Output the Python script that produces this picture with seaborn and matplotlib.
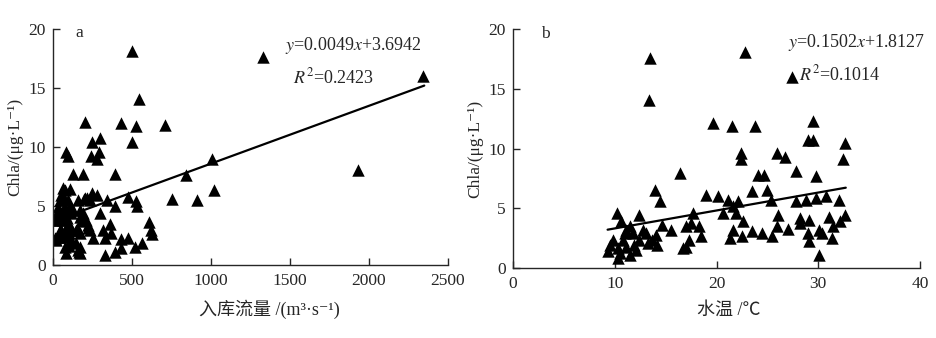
import numpy as np
import pandas as pd
import matplotlib
matplotlib.use("Agg")
import matplotlib.pyplot as plt
import seaborn as sns

sns.set_style("ticks")
plt.rcParams["font.family"] = ["Liberation Serif", "Noto Sans CJK SC", "DejaVu Serif"]
plt.rcParams["mathtext.fontset"] = "stix"
plt.rcParams["axes.linewidth"] = 1.0
plt.rcParams["xtick.direction"] = "in"
plt.rcParams["ytick.direction"] = "in"

# ---- data ----
flow_x = [500, 1330, 2343, 545, 200, 433, 523, 707, 296, 249, 498, 84, 95, 291, 243, 279,
          1007, 1932, 395, 127, 190, 844, 1017, 756, 912, 342, 395, 477, 523, 534, 63, 106,
          196, 215, 249, 279, 232, 606, 623, 629, 296, 359, 317, 370, 327, 433, 475, 433,
          519, 561, 327, 390, 253, 232, 169, 180, 148, 169, 162, 112, 38,
          32, 32, 21, 74, 85, 127, 63, 106, 53, 85, 116, 74, 85, 169, 148, 169, 190, 158,
          222, 11, 42, 95, 74, 53, 32, 21, 11, 42, 74, 95, 116, 169, 201, 158, 158, 211,
          60, 90, 100, 50, 120, 80, 70, 110, 100, 222]
flow_chla = [18.1, 17.6, 16.0, 14.1, 12.1, 12.0, 11.8, 11.9, 10.8, 10.4, 10.45, 9.6, 9.2, 9.6, 9.2, 9.0,
             9.0, 8.05, 7.7, 7.7, 7.7, 7.6, 6.35, 5.6, 5.5, 5.5, 5.0, 5.8, 5.4, 5.0, 6.5, 6.4,
             5.6, 5.65, 6.07, 5.9, 5.5, 3.67, 2.97, 2.6, 4.4, 3.5, 3.0, 2.7, 2.3, 2.2, 2.3, 1.4,
             1.55, 1.9, 0.85, 1.1, 2.3, 3.0, 4.1, 3.7, 3.0, 1.55, 1.1, 2.1, 3.8,
             4.5, 2.4, 2.1, 5.5, 4.66, 4.66, 3.8, 3.25, 3.0, 2.4, 2.1, 1.55, 1.0, 1.0, 1.84, 2.7, 4.4, 5.5,
             3.4, 4.1, 5.5, 5.5, 6.35, 5.9, 4.9, 3.8, 2.26, 3.0, 2.4, 3.5, 4.4, 4.66, 5.65, 3.0, 1.27, 3.8,
             4.2, 4.0, 1.6, 2.7, 3.0, 3.0, 4.8, 5.0, 2.7, 3.1]

temp_x = [13.5, 13.36, 22.75, 19.7, 21.5, 23.8, 29.5, 29.0, 29.5, 32.6, 32.4, 22.4, 22.4, 25.9, 26.7,
          16.4, 27.8, 24.1, 24.7, 29.8, 14.0, 14.4, 19.0, 20.1, 23.5, 25.0, 25.4, 27.8, 28.8, 29.8,
          30.8, 32.0, 21.1, 22.1, 21.6, 20.6, 21.9, 12.4, 10.2, 10.6, 14.6, 15.5, 17.0, 17.7, 17.5,
          18.3, 18.5, 17.0, 16.7, 17.3, 21.6, 21.3, 22.6, 22.5, 23.5, 24.5, 25.5, 26.0, 25.9, 27.0,
          28.2, 29.1, 29.0, 29.1, 30.1, 30.4, 31.1, 31.4, 31.3, 32.1, 32.6, 30.1, 28.2, 27.4,
          9.3, 9.5, 9.8, 10.3, 10.5, 11.1, 11.5, 10.8, 11.8, 11.5, 12.1, 12.4, 12.8, 13.3, 13.7,
          14.1, 11.0, 10.3, 11.9, 11.1, 13.1, 14.2]
temp_chla = [17.6, 14.1, 18.1, 12.1, 11.9, 11.9, 12.3, 10.7, 10.7, 10.5, 9.15, 9.6, 9.1, 9.6, 9.26,
             7.95, 8.1, 7.75, 7.8, 7.67, 6.55, 5.58, 6.14, 6.05, 6.42, 6.56, 5.72, 5.58, 5.72, 5.86,
             6.0, 5.72, 5.72, 5.58, 5.16, 4.6, 4.6, 4.46, 4.6, 3.9, 3.6, 3.2, 3.5, 4.6, 3.77,
             3.5, 2.65, 1.8, 1.67, 2.37, 3.2, 2.5, 3.9, 2.65, 3.07, 2.93, 2.65, 4.46, 3.5, 3.3,
             4.2, 4.0, 2.93, 2.23, 3.2, 2.93, 4.3, 3.5, 2.5, 3.9, 4.46, 1.1, 3.8, 16.0,
             1.4, 1.95, 2.37, 0.84, 1.26, 1.8, 1.1, 2.37, 2.9, 3.5, 1.53, 2.37, 3.2, 2.1, 2.37,
             2.8, 2.9, 1.67, 1.95, 3.2, 2.9, 1.95]

# fitted lines (coefficients as printed in the figure)
fit_a = (0.0049, 3.6942)
fit_b = (0.1502, 1.8127)
fit_range_a = [200, 2350]
fit_range_b = [9.3, 32.7]

df_a = pd.DataFrame({"x": flow_x, "y": flow_chla})
df_b = pd.DataFrame({"x": temp_x, "y": temp_chla})
line_a = pd.DataFrame({"x": fit_range_a})
line_a["y"] = fit_a[0] * line_a["x"] + fit_a[1]
line_b = pd.DataFrame({"x": fit_range_b})
line_b["y"] = fit_b[0] * line_b["x"] + fit_b[1]

fig = plt.figure(figsize=(9.36, 3.38), dpi=100)
ax1 = fig.add_axes([0.0566, 0.216, 0.422, 0.698])
ax2 = fig.add_axes([0.548, 0.207, 0.435, 0.707])

sns.scatterplot(data=df_a, x="x", y="y", marker="^", s=80, color="black", linewidth=0, ax=ax1)
sns.lineplot(data=line_a, x="x", y="y", color="black", linewidth=1.6, ax=ax1)
sns.scatterplot(data=df_b, x="x", y="y", marker="^", s=80, color="black", linewidth=0, ax=ax2)
sns.lineplot(data=line_b, x="x", y="y", color="black", linewidth=1.6, ax=ax2)

ylab = "Chla/(μg·L⁻¹)"
ax1.set_xlim(0, 2500)
ax1.set_xticks([0, 500, 1000, 1500, 2000, 2500])
ax2.set_xlim(0, 40)
ax2.set_xticks([0, 10, 20, 30, 40])
for ax in [ax1, ax2]:
    ax.set_ylim(0, 20)
    ax.set_yticks([0, 5, 10, 15, 20])
    sns.despine(ax=ax)
    ax.tick_params(length=5, width=1, labelsize=12.5)
    ax.tick_params(axis="x", pad=6)
    ax.tick_params(axis="y", pad=5)
    ax.set_ylabel(ylab, fontsize=12.5, labelpad=4)

ax1.set_xlabel("入库流量 /(m³·s⁻¹)", fontsize=13)
ax2.set_xlabel("水温 /℃", fontsize=13)
ax1.xaxis.set_label_coords(0.547, -0.145)
ax2.xaxis.set_label_coords(0.53, -0.14)

ax1.text(165, 19.7, "a", fontsize=12.5, ha="center", va="center")
ax2.text(3.2, 19.6, "b", fontsize=12.5, ha="center", va="center")
ax1.text(2336, 18.6, r"$y$=0.0049$x$+3.6942", fontsize=13, ha="right", va="center")
ax1.text(1519, 15.9, r"$R^2$=0.2423", fontsize=13, ha="left", va="center")
ax2.text(40.5, 18.9, r"$y$=0.1502$x$+1.8127", fontsize=13, ha="right", va="center")
ax2.text(28.1, 16.2, r"$R^2$=0.1014", fontsize=13, ha="left", va="center")

fig.savefig("out.png", dpi=100)
